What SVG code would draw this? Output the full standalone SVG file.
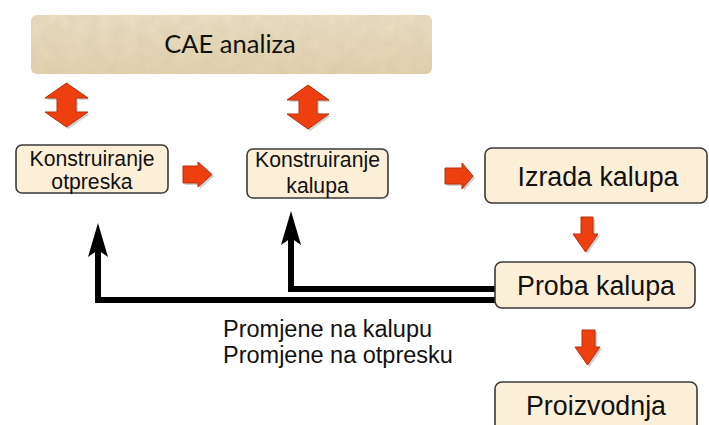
<svg xmlns="http://www.w3.org/2000/svg" width="709" height="425" viewBox="0 0 709 425">
<defs>
<style>
.box{fill:#fcefd8;stroke:#3a3a3a;stroke-width:1.6}
.t{font-family:"Liberation Sans",Arial,sans-serif;fill:#111;text-anchor:middle}
.red{fill:#ee3f10;stroke:#b8300c;stroke-width:1}
.shadow{fill:#9a9a9a;opacity:0.45}
.line{fill:none;stroke:#000;stroke-width:6;stroke-linejoin:miter}
.head{fill:#000}
</style>
<linearGradient id="tan" x1="0" y1="0" x2="0" y2="1">
<stop offset="0" stop-color="#ebdfc4"/>
<stop offset="1" stop-color="#e2d2b0"/>
</linearGradient>
<filter id="tex" x="0" y="0" width="1" height="1">
<feTurbulence type="fractalNoise" baseFrequency="0.08" numOctaves="3" seed="4" result="n"/>
<feColorMatrix in="n" type="matrix" values="0 0 0 0 0.55  0 0 0 0 0.45  0 0 0 0 0.3  0 0 0 0.35 -0.05" result="c"/>
<feComposite in="c" in2="SourceGraphic" operator="in" result="m"/>
<feMerge><feMergeNode in="SourceGraphic"/><feMergeNode in="m"/></feMerge>
</filter>
</defs>
<rect width="709" height="425" fill="#fff"/>

<g id="cae">
<rect x="31" y="15" width="401" height="59" rx="6" fill="url(#tan)" filter="url(#tex)"/>
<text x="230" y="53" font-family="Lato,'Open Sans',sans-serif" font-size="25.5" fill="#111" text-anchor="middle">CAE analiza</text>
</g>

<g id="arrows-red">
<polygon class="shadow" points="68.5,85 90,100 78,100 78,114 90,114 68.5,129 47,114 59,114 59,100 47,100"/>
<polygon class="red" points="66.5,83 88,98 76,98 76,112 88,112 66.5,127 45,112 57,112 57,98 45,98"/>
<polygon class="shadow" points="310,87 331,102 319,102 319,116 331,116 310,131 289,116 301,116 301,102 289,102"/>
<polygon class="red" points="308,85 329,100 317,100 317,114 329,114 308,129 287,114 299,114 299,100 287,100"/>
<polygon class="shadow" points="185,168 200,168 200,164 214,176.5 200,189 200,185 185,185"/>
<polygon class="red" points="183,166 198,166 198,162 212,174.5 198,187 198,183 183,183"/>
<polygon class="shadow" points="447,170 464,170 464,165 475,178 464,191 464,186 447,186"/>
<polygon class="red" points="445,168 462,168 462,163 473,176 462,189 462,184 445,184"/>
<polygon class="shadow" points="583,219 595,219 595,236 600,236 587.5,254 575,236 583,236"/>
<polygon class="red" points="581,217 593,217 593,234 598,234 585.5,252 573,234 581,234"/>
<polygon class="shadow" points="584,332 597,332 597,349 602,349 589.5,367 577,349 584,349"/>
<polygon class="red" points="582,330 595,330 595,347 600,347 587.5,365 575,347 582,347"/>
</g>

<g id="connectors">
<path class="line" d="M495 300 H98 V250"/>
<polygon class="head" points="98,223 108,257 98,250 88,257"/>
<path class="line" d="M495 289 H291 V238"/>
<polygon class="head" points="291,211 301,245 291,238 281,245"/>
</g>

<g id="konstruiranje-otpreska">
<rect class="box" x="16" y="145" width="152" height="48" rx="6"/>
<text class="t" x="92" y="166" font-size="21.2">Konstruiranje</text>
<text class="t" x="92" y="188.5" font-size="21.2">otpreska</text>
</g>

<g id="konstruiranje-kalupa">
<rect class="box" x="247" y="149" width="141" height="49" rx="6"/>
<text class="t" x="317.5" y="167" font-size="21.2">Konstruiranje</text>
<text class="t" x="317.5" y="193" font-size="21.2">kalupa</text>
</g>

<g id="izrada-kalupa">
<rect class="box" x="485" y="148" width="222" height="55" rx="7"/>
<text class="t" x="598" y="185.5" font-size="26.8">Izrada kalupa</text>
</g>

<g id="proba-kalupa">
<rect class="box" x="495" y="262" width="200" height="46" rx="7"/>
<text class="t" x="596" y="294.5" font-size="26.8">Proba kalupa</text>
</g>

<g id="proizvodnja">
<rect class="box" x="495" y="382" width="202" height="60" rx="7"/>
<text class="t" x="596" y="414.5" font-size="26.8">Proizvodnja</text>
</g>

<g id="label">
<text x="223" y="337" font-family="'Liberation Sans',Arial,sans-serif" font-size="23.5" fill="#111">Promjene na kalupu</text>
<text x="223" y="363" font-family="'Liberation Sans',Arial,sans-serif" font-size="23.5" fill="#111">Promjene na otpresku</text>
</g>
</svg>
